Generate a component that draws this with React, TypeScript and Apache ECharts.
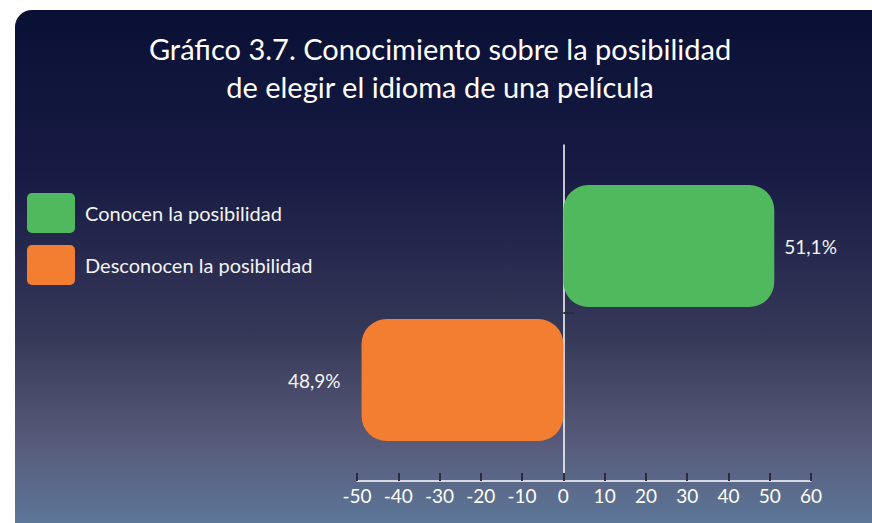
import React, { useEffect, useRef } from "react";
import * as echarts from "echarts";

const categories = ["Desconocen la posibilidad", "Conocen la posibilidad"];
const conocenValues: (number | string)[] = ["-", 51.1];
const desconocenValues: (number | string)[] = [48.9, "-"];
const xTicks = { min: -50, max: 60, interval: 10 };
const titleLines = [
  "Gráfico 3.7. Conocimiento sobre la posibilidad",
  "de elegir el idioma de una película",
];

const FONT = "Lato, 'Open Sans', sans-serif";
const GREEN = "#50b95d";
const ORANGE = "#f37e32";

const fmt = (v: number) => Math.abs(v).toFixed(1).replace(".", ",") + "%";

export default function App() {
  const ref = useRef<HTMLDivElement>(null);
  useEffect(() => {
    if (!ref.current) return;
    const chart = echarts.init(ref.current, null, { renderer: "svg" });
    const legendIcon =
      "path://M5,0H43A5,5,0,0,1,48,5V35A5,5,0,0,1,43,40H5A5,5,0,0,1,0,35V5A5,5,0,0,1,5,0Z";
    chart.setOption({
      animation: false,
      backgroundColor: "#ffffff",
      graphic: [
        {
          type: "rect",
          z: -10,
          silent: true,
          shape: { x: 15, y: 10, width: 880, height: 540, r: [17, 0, 0, 0] },
          style: {
            fill: new echarts.graphic.LinearGradient(0, 0, 0, 1, [
              { offset: 0, color: "#0a1034" },
              { offset: 0.3, color: "#171b44" },
              { offset: 0.6, color: "#363858" },
              { offset: 0.8, color: "#585a7a" },
              { offset: 1, color: "#5e80a2" },
            ]),
          },
        },
        {
          type: "text",
          x: 440,
          y: 29,
          style: {
            text: titleLines.join("\n"),
            fill: "#ffffff",
            font: `29px ${FONT}`,
            lineHeight: 38,
            align: "center",
            verticalAlign: "top",
          },
        },
      ],
      legend: {
        orient: "vertical",
        left: 27,
        top: 193,
        padding: 0,
        itemWidth: 48,
        itemHeight: 40,
        itemGap: 12,
        selectedMode: false,
        icon: legendIcon,
        data: ["Conocen la posibilidad", "Desconocen la posibilidad"],
        textStyle: {
          color: "#f4f4f4",
          fontSize: 20,
          fontFamily: FONT,
          padding: [0, 0, 0, 5],
        },
      },
      grid: [
        { left: 357, right: 61, top: 145, bottom: 42 },
        { left: 357, right: 61, top: 179, bottom: 76 },
      ],
      xAxis: [
        {
          type: "value",
          gridIndex: 0,
          min: xTicks.min,
          max: xTicks.max,
          interval: xTicks.interval,
          axisLine: { show: true, lineStyle: { color: "#ffffff", width: 1.5 } },
          axisTick: {
            show: true,
            inside: true,
            length: 8,
            lineStyle: { color: "#2b2b3b", width: 2 },
          },
          axisLabel: {
            color: "#ffffff",
            fontSize: 19,
            fontFamily: FONT,
            margin: 5,
          },
          splitLine: { show: false },
        },
        {
          type: "value",
          gridIndex: 1,
          min: xTicks.min,
          max: xTicks.max,
          interval: xTicks.interval,
          show: false,
        },
      ],
      yAxis: [
        {
          type: "value",
          gridIndex: 0,
          min: 0,
          max: 2,
          axisLine: {
            show: true,
            onZero: true,
            lineStyle: { color: "#ffffff", width: 1.5 },
          },
          axisTick: {
            show: true,
            inside: true,
            length: 11,
            customValues: [1],
            lineStyle: { color: "#2b2b3b", width: 2 },
          },
          axisLabel: { show: false },
          splitLine: { show: false },
        },
        {
          type: "category",
          gridIndex: 1,
          data: categories,
          show: false,
        },
      ],
      series: [
        {
          name: "Conocen la posibilidad",
          type: "bar",
          xAxisIndex: 1,
          yAxisIndex: 1,
          data: conocenValues,
          barWidth: 122,
          barGap: "-100%",
          itemStyle: { color: GREEN, borderRadius: 25 },
          label: {
            show: true,
            position: "right",
            distance: 10,
            color: "#f4f4f4",
            fontSize: 19,
            fontFamily: FONT,
            formatter: (p: any) => fmt(p.value),
          },
        },
        {
          name: "Desconocen la posibilidad",
          type: "bar",
          xAxisIndex: 1,
          yAxisIndex: 1,
          data: desconocenValues.map((v) => (typeof v === "number" ? -v : v)),
          barWidth: 122,
          barGap: "-100%",
          itemStyle: { color: ORANGE, borderRadius: 25 },
          label: {
            show: true,
            position: "left",
            distance: 21,
            color: "#f4f4f4",
            fontSize: 19,
            fontFamily: FONT,
            formatter: (p: any) => fmt(p.value),
          },
        },
      ],
    });
    return () => chart.dispose();
  }, []);
  return (
    <div
      ref={ref}
      style={{ position: "absolute", left: 0, top: 0, width: 872, height: 523 }}
    />
  );
}
